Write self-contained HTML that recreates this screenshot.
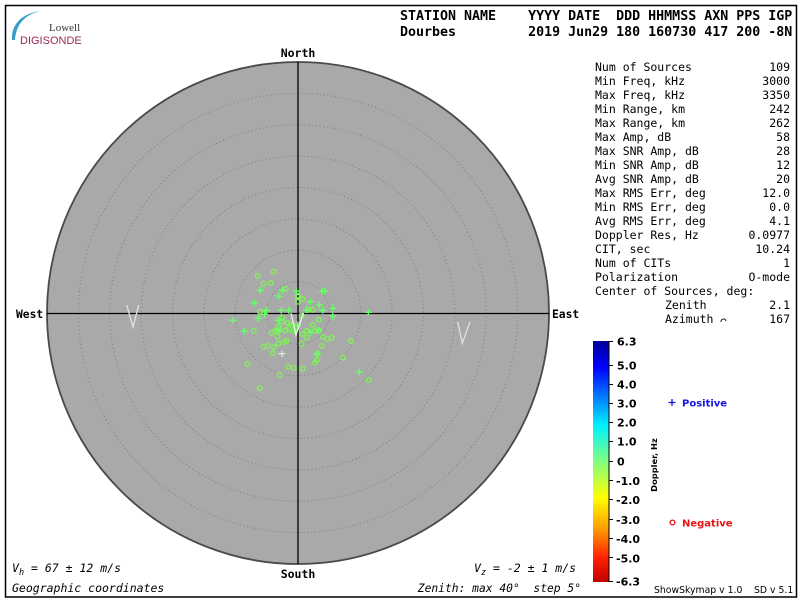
<!DOCTYPE html>
<html><head><meta charset="utf-8"><style>
html,body{margin:0;padding:0;background:#fff;width:800px;height:600px;overflow:hidden}
svg{display:block}
.mono{font-family:"DejaVu Sans Mono","Liberation Mono",monospace}
.sans{font-family:"DejaVu Sans","Liberation Sans",sans-serif}
</style></head><body>
<svg width="800" height="600" viewBox="0 0 800 600" xmlns="http://www.w3.org/2000/svg">
<defs>
<linearGradient id="jet" x1="0" y1="0" x2="0" y2="1">
<stop offset="0" stop-color="#00009a"/>
<stop offset="0.11" stop-color="#0000ff"/>
<stop offset="0.22" stop-color="#0070ff"/>
<stop offset="0.35" stop-color="#00f0ff"/>
<stop offset="0.5" stop-color="#80ff80"/>
<stop offset="0.65" stop-color="#ffff00"/>
<stop offset="0.78" stop-color="#ff9c00"/>
<stop offset="0.9" stop-color="#ff2000"/>
<stop offset="1" stop-color="#c00000"/>
</linearGradient>
</defs>
<rect x="0" y="0" width="800" height="600" fill="#fff"/>
<rect x="5.5" y="5.5" width="791" height="591.5" fill="none" stroke="#000" stroke-width="1.5"/>

<!-- logo -->
<path d="M12 40 C11 26 20 14 40 11 C24 15 16 25 15 40 Z" fill="#3a9cc8"/>
<text x="49" y="31" font-family="Liberation Serif,serif" font-size="11" fill="#333">Lowell</text>
<text x="20" y="44" font-family="Liberation Sans,sans-serif" font-size="11" fill="#9a2a5c">DIGISONDE</text>

<!-- header -->
<text x="400" y="20" class="mono" font-size="13.3" font-weight="bold" style="white-space:pre">STATION NAME    YYYY DATE  DDD HHMMSS AXN PPS IGP</text>
<text x="400" y="36" class="mono" font-size="13.3" font-weight="bold" style="white-space:pre">Dourbes         2019 Jun29 180 160730 417 200 -8N</text>

<!-- plot -->
<circle cx="298" cy="313" r="251" fill="#a9a9a9" stroke="#4a4a4a" stroke-width="1.8"/>
<g fill="none" stroke="#7c7c7c" stroke-width="1" stroke-dasharray="1 2.8">
<circle cx="298" cy="313" r="31.4"/>
<circle cx="298" cy="313" r="62.75"/>
<circle cx="298" cy="313" r="94.1"/>
<circle cx="298" cy="313" r="125.5"/>
<circle cx="298" cy="313" r="156.9"/>
<circle cx="298" cy="313" r="188.2"/>
<circle cx="298" cy="313" r="219.6"/>
</g>
<line x1="298" y1="62" x2="298" y2="564" stroke="#000" stroke-width="1.3"/>
<line x1="47" y1="313.5" x2="549" y2="313.5" stroke="#000" stroke-width="1.3"/>
<polyline points="126.7,305 133,327 138.7,305" fill="none" stroke="#e2e2e2" stroke-width="1.3"/>
<polyline points="457.7,321.7 462.3,343.3 470,321.7" fill="none" stroke="#e2e2e2" stroke-width="1.3"/>

<!-- circles (negative) -->
<g fill="none" stroke="#84ec5e" stroke-width="1.5">
<circle cx="257.7" cy="275.7" r="2.3"/><circle cx="273.7" cy="271.7" r="2.3"/><circle cx="263.7" cy="283.7" r="2.3"/><circle cx="270.7" cy="283" r="2.3"/><circle cx="285.7" cy="289" r="2.3"/><circle cx="297.7" cy="295.7" r="2.3"/><circle cx="302.7" cy="299" r="2.3"/><circle cx="297.7" cy="301.7" r="2.3"/><circle cx="260" cy="311.7" r="2.3"/><circle cx="308.7" cy="309.7" r="2.3"/><circle cx="312.7" cy="309.7" r="2.3"/><circle cx="301.7" cy="315.7" r="2.3"/><circle cx="282.3" cy="317.7" r="2.3"/><circle cx="318.7" cy="319.7" r="2.3"/><circle cx="282" cy="321.7" r="2.3"/><circle cx="287.7" cy="323" r="2.3"/><circle cx="312.7" cy="325" r="2.3"/><circle cx="253.7" cy="330.7" r="2.3"/><circle cx="271.7" cy="332.7" r="2.3"/><circle cx="275" cy="331" r="2.3"/><circle cx="278.7" cy="330.3" r="2.3"/><circle cx="285.3" cy="330.3" r="2.3"/><circle cx="288.7" cy="329" r="2.3"/><circle cx="292.3" cy="325.7" r="2.3"/><circle cx="290.7" cy="325" r="2.3"/><circle cx="306.7" cy="330.7" r="2.3"/><circle cx="314.7" cy="330.7" r="2.3"/><circle cx="319" cy="330.3" r="2.3"/><circle cx="302.3" cy="334" r="2.3"/><circle cx="306.7" cy="337.7" r="2.3"/><circle cx="277.7" cy="336.7" r="2.3"/><circle cx="323" cy="337" r="2.3"/><circle cx="327.3" cy="339" r="2.3"/><circle cx="331.7" cy="337.7" r="2.3"/><circle cx="351" cy="341" r="2.3"/><circle cx="286.7" cy="340.7" r="2.3"/><circle cx="284.3" cy="342" r="2.3"/><circle cx="301.7" cy="343.7" r="2.3"/><circle cx="278.3" cy="343.7" r="2.3"/><circle cx="263.7" cy="346.7" r="2.3"/><circle cx="267.7" cy="346" r="2.3"/><circle cx="274" cy="347" r="2.3"/><circle cx="321.7" cy="346" r="2.3"/><circle cx="272.7" cy="353" r="2.3"/><circle cx="317.7" cy="354" r="2.3"/><circle cx="316.7" cy="360" r="2.3"/><circle cx="315" cy="362.7" r="2.3"/><circle cx="343" cy="357.7" r="2.3"/><circle cx="247.7" cy="363.7" r="2.3"/><circle cx="288.3" cy="367" r="2.3"/><circle cx="293.7" cy="368" r="2.3"/><circle cx="302.7" cy="368.7" r="2.3"/><circle cx="279.7" cy="375" r="2.3"/><circle cx="259.7" cy="388.3" r="2.3"/><circle cx="368.7" cy="379.7" r="2.3"/><circle cx="298" cy="296.7" r="2.3"/><circle cx="278.3" cy="326.7" r="2.3"/>
</g>
<!-- center blob -->
<g fill="#74e25a">
<circle cx="292" cy="327" r="3"/><circle cx="294.5" cy="331" r="2.8"/><circle cx="291" cy="332" r="2.2"/><circle cx="296" cy="327" r="2"/>
</g>
<!-- crosses (positive) -->
<g stroke="#66ff66" stroke-width="1.5" fill="none">
<path d="M256.8 290.3h7M260.3 286.8v7 M278.8 290.3h7M282.3 286.8v7 M275.2 296.3h7M278.7 292.8v7 M292.8 291h7M296.3 287.5v7 M318.5 291h7M322 287.5v7 M321.2 291h7M324.7 287.5v7 M250.8 303h7M254.3 299.5v7 M306.8 301.7h7M310.3 298.2v7 M315.8 305h7M319.3 301.5v7 M329.2 308.3h7M332.7 304.8v7 M319.2 310.3h7M322.7 306.8v7 M262.8 310.3h7M266.3 306.8v7 M277.8 310.3h7M281.3 306.8v7 M285.2 310.3h7M288.7 306.8v7 M303.2 309.7h7M306.7 306.2v7 M261.2 314.3h7M264.7 310.8v7 M254.8 318.3h7M258.3 314.8v7 M229.8 320.3h7M233.3 316.8v7 M274.8 320.3h7M278.3 316.8v7 M329.2 316.3h7M332.7 312.8v7 M364.8 312.3h7M368.3 308.8v7 M240.8 331h7M244.3 327.5v7 M274.8 330.3h7M278.3 326.8v7 M314.8 330.3h7M318.3 326.8v7 M306.8 332.3h7M310.3 328.8v7 M313.2 353.7h7M316.7 350.2v7 M355.8 372.3h7M359.3 368.8v7 M294.2 325h7M297.7 321.5v7"/>
</g>
<path d="M278.5 353.7h7M282 350.2v7" stroke="#d4ecd4" stroke-width="1.3"/>
<polyline points="291,313 296,335 303.5,313" fill="none" stroke="#f0f0f0" stroke-width="1.3"/>

<!-- compass labels -->
<text x="298" y="57" text-anchor="middle" class="mono" font-size="11.5" font-weight="bold">North</text>
<text x="298" y="578" text-anchor="middle" class="mono" font-size="11.5" font-weight="bold">South</text>
<text x="16" y="318" class="mono" font-size="11.3" font-weight="bold">West</text>
<text x="552" y="318" class="mono" font-size="11.3" font-weight="bold">East</text>

<!-- bottom texts -->
<text x="12" y="572" class="mono" font-size="11.5" font-style="italic" style="white-space:pre">V<tspan font-size="8.5" dy="3">h</tspan><tspan dy="-3"> = 67 ± 12 m/s</tspan></text>
<text x="12" y="592" class="mono" font-size="11.5" font-style="italic">Geographic coordinates</text>
<text x="474" y="572" class="mono" font-size="11.5" font-style="italic" style="white-space:pre">V<tspan font-size="8.5" dy="3">z</tspan><tspan dy="-3"> = -2 ± 1 m/s</tspan></text>
<text x="581" y="592" text-anchor="end" class="mono" font-size="11.3" font-style="italic" style="white-space:pre">Zenith: max 40°  step 5°</text>

<!-- stats -->
<g class="mono" font-size="11.5">
<text x="595" y="71">Num of Sources</text><text x="790" y="71" text-anchor="end">109</text>
<text x="595" y="85">Min Freq, kHz</text><text x="790" y="85" text-anchor="end">3000</text>
<text x="595" y="99">Max Freq, kHz</text><text x="790" y="99" text-anchor="end">3350</text>
<text x="595" y="113">Min Range, km</text><text x="790" y="113" text-anchor="end">242</text>
<text x="595" y="127">Max Range, km</text><text x="790" y="127" text-anchor="end">262</text>
<text x="595" y="141">Max Amp, dB</text><text x="790" y="141" text-anchor="end">58</text>
<text x="595" y="155">Max SNR Amp, dB</text><text x="790" y="155" text-anchor="end">28</text>
<text x="595" y="169">Min SNR Amp, dB</text><text x="790" y="169" text-anchor="end">12</text>
<text x="595" y="183">Avg SNR Amp, dB</text><text x="790" y="183" text-anchor="end">20</text>
<text x="595" y="197">Max RMS Err, deg</text><text x="790" y="197" text-anchor="end">12.0</text>
<text x="595" y="211">Min RMS Err, deg</text><text x="790" y="211" text-anchor="end">0.0</text>
<text x="595" y="225">Avg RMS Err, deg</text><text x="790" y="225" text-anchor="end">4.1</text>
<text x="595" y="239">Doppler Res, Hz</text><text x="790" y="239" text-anchor="end">0.0977</text>
<text x="595" y="253">CIT, sec</text><text x="790" y="253" text-anchor="end">10.24</text>
<text x="595" y="267">Num of CITs</text><text x="790" y="267" text-anchor="end">1</text>
<text x="595" y="281">Polarization</text><text x="790" y="281" text-anchor="end">O-mode</text>
<text x="595" y="295">Center of Sources, deg:</text>
<text x="665" y="309">Zenith</text><text x="790" y="309" text-anchor="end">2.1</text>
<text x="665" y="323">Azimuth</text><text x="790" y="323" text-anchor="end">167</text>
</g>
<path d="M721 322 a2.5 2.5 0 0 1 5 -1" fill="none" stroke="#000" stroke-width="0.9"/>

<!-- colorbar -->
<rect x="593" y="341" width="16" height="241" fill="url(#jet)"/>
<line x1="609" y1="341" x2="609" y2="582" stroke="#000" stroke-width="1"/>
<g stroke="#000" stroke-width="1">
<line x1="609" y1="341.5" x2="613" y2="341.5"/><line x1="609" y1="365.5" x2="613" y2="365.5"/><line x1="609" y1="384.5" x2="613" y2="384.5"/><line x1="609" y1="403.5" x2="613" y2="403.5"/><line x1="609" y1="422.5" x2="613" y2="422.5"/><line x1="609" y1="441.5" x2="613" y2="441.5"/><line x1="609" y1="461.5" x2="613" y2="461.5"/><line x1="609" y1="480.5" x2="613" y2="480.5"/><line x1="609" y1="499.5" x2="613" y2="499.5"/><line x1="609" y1="519.5" x2="613" y2="519.5"/><line x1="609" y1="538.5" x2="613" y2="538.5"/><line x1="609" y1="557.5" x2="613" y2="557.5"/><line x1="609" y1="581.5" x2="613" y2="581.5"/>
</g>
<g class="sans" font-size="11" font-weight="bold">
<text x="617" y="345.5">6.3</text>
<text x="617" y="369.5">5.0</text>
<text x="617" y="388.5">4.0</text>
<text x="617" y="407.5">3.0</text>
<text x="617" y="426.5">2.0</text>
<text x="617" y="445.5">1.0</text>
<text x="617" y="465.5">0</text>
<text x="616" y="485">-1.0</text>
<text x="616" y="504">-2.0</text>
<text x="616" y="524">-3.0</text>
<text x="616" y="543">-4.0</text>
<text x="616" y="562.5">-5.0</text>
<text x="616" y="585.5">-6.3</text>
</g>
<text transform="translate(657,465) rotate(-90)" text-anchor="middle" class="sans" font-size="8.3" font-weight="bold">Doppler, Hz</text>
<path d="M668.5 402.5h7M672 399v7" stroke="#1414e6" stroke-width="1.3"/>
<text x="682" y="406.5" class="sans" font-size="10" font-weight="bold" fill="#1414e6">Positive</text>
<circle cx="672.5" cy="522.5" r="2.4" fill="none" stroke="#e61414" stroke-width="1.3"/>
<text x="682" y="526.5" class="sans" font-size="10" font-weight="bold" fill="#e61414">Negative</text>
<text x="654" y="593" class="sans" font-size="9.3" style="white-space:pre">ShowSkymap v 1.0</text>
<text x="754" y="593" class="sans" font-size="9.3" style="white-space:pre">SD v 5.1</text>
</svg>
</body></html>
